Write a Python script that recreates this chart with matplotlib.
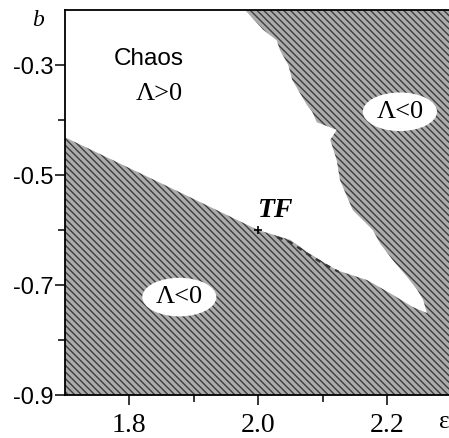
import numpy as np
import matplotlib.pyplot as plt

# boundary of the chaotic region
upper_eps = [1.980, 2.008, 2.029, 2.034, 2.047, 2.053, 2.076, 2.084, 2.091, 2.122,
             2.112, 2.122, 2.127, 2.140, 2.147, 2.178, 2.189, 2.209, 2.231, 2.247,
             2.256, 2.262]
upper_b = [-0.200, -0.236, -0.255, -0.273, -0.300, -0.327, -0.373, -0.385, -0.404, -0.418,
           -0.436, -0.473, -0.509, -0.545, -0.564, -0.600, -0.624, -0.655, -0.685, -0.709,
           -0.727, -0.751]
lower_eps = [2.240, 2.205, 2.169, 2.122, 2.101, 2.076, 2.050, 2.000, 1.848, 1.700]
lower_b = [-0.740, -0.715, -0.691, -0.673, -0.658, -0.640, -0.618, -0.600, -0.514, -0.431]

# dashed continuation of the border after TF
dash_eps = [2.03, 2.05, 2.076, 2.101, 2.125]
dash_b = [-0.613, -0.622, -0.643, -0.661, -0.676]

tf_eps, tf_b = 2.0, -0.6
eps_lim = [1.7, 2.3]
b_lim = [-0.9, -0.2]

plt.rcParams['hatch.color'] = '#3c3c3c'
plt.rcParams['hatch.linewidth'] = 1.0

fig = plt.figure(figsize=(4.49, 4.38), dpi=100)
ax = fig.add_axes([64.5 / 449, 43 / 438, 387 / 449, 385 / 438])

# Lambda<0 everywhere, chaos cut out on top
ax.fill_between(eps_lim, b_lim[0], b_lim[1], facecolor='#ababab',
                edgecolor='#3c3c3c', hatch='\\\\\\\\\\', linewidth=0)
chaos_eps = [eps_lim[0]] + upper_eps + lower_eps
chaos_b = [b_lim[1]] + upper_b + lower_b
ax.fill(chaos_eps, chaos_b, facecolor='white', edgecolor='none', zorder=2)

ax.plot(dash_eps, dash_b, color='#333333', lw=1.6, ls=(0, (2.5, 2.5)), zorder=3)
ax.plot(tf_eps, tf_b, marker='+', color='black', ms=6, mew=1.2, zorder=4)

ax.set_xlim(eps_lim)
ax.set_ylim(b_lim)
ax.set_xticks([1.8, 2.0, 2.2])
ax.set_xticks([1.9, 2.1], minor=True)
ax.set_yticks([-0.9, -0.7, -0.5, -0.3])
ax.set_yticks([-0.8, -0.6, -0.4], minor=True)
ax.set_xticklabels(['1.8', '2.0', '2.2'], family='Liberation Serif', fontsize=20)
ax.set_yticklabels(['-0.9', '-0.7', '-0.5', '-0.3'], family='Liberation Sans', fontsize=17)
ax.tick_params(which='major', direction='out', length=7, width=1.1)
ax.tick_params(which='minor', direction='out', length=5, width=1.1)
ax.tick_params(axis='x', pad=6)
ax.tick_params(axis='y', pad=1)
for s in ax.spines.values():
    s.set_linewidth(1.3)
    s.set_zorder(5)

ax.text(1.830, -0.289, 'Chaos', family='Liberation Sans', fontsize=17.5,
        ha='center', va='center', zorder=6)
ax.text(1.847, -0.353, 'Λ>0', family='Liberation Serif', fontsize=19,
        ha='center', va='center', zorder=6)
ellipse = dict(boxstyle='ellipse,pad=0.1', fc='white', ec='none')
ax.text(2.220, -0.385, 'Λ<0', family='Liberation Serif', fontsize=19,
        ha='center', va='center', bbox=ellipse, zorder=6)
ax.text(1.878, -0.722, 'Λ<0', family='Liberation Serif', fontsize=19,
        ha='center', va='center', bbox=ellipse, zorder=6)
ax.text(2.028, -0.564, 'TF', family='Liberation Serif', fontsize=20,
        style='italic', weight='bold', ha='center', va='center', zorder=6)

ax.text(-0.068, 0.974, 'b', transform=ax.transAxes, family='Liberation Serif',
        style='italic', fontsize=17, ha='center', va='center')
ax.text(0.995, -0.07, 'ε', transform=ax.transAxes, family='Liberation Serif',
        fontsize=18, ha='right', va='center')

fig.savefig('out.png', dpi=100)
